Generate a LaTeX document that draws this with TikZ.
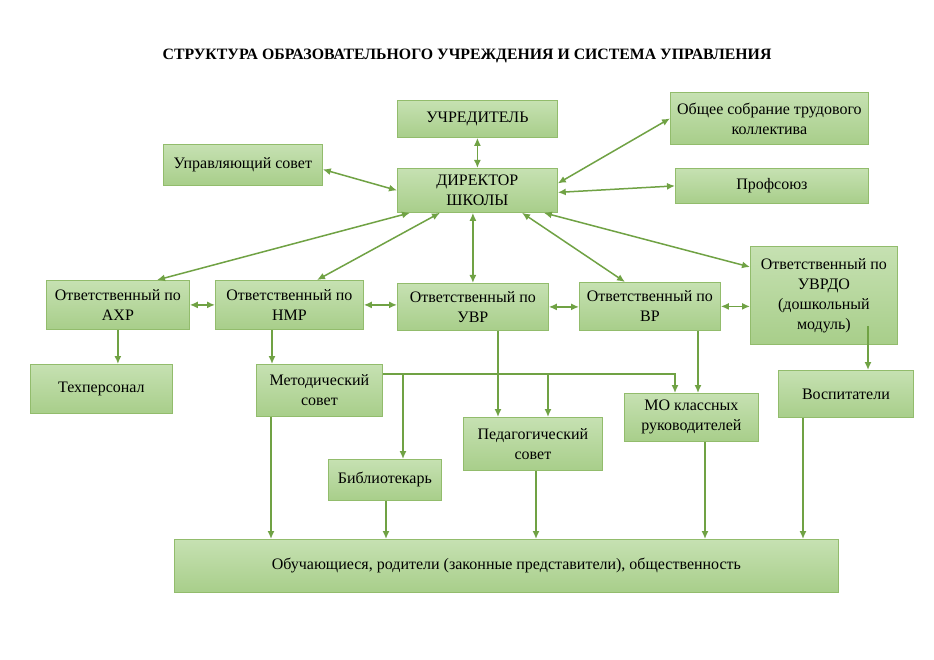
\documentclass[tikz,border=0pt]{standalone}
\usepackage{fontspec}
\setmainfont{Liberation Serif}
\usetikzlibrary{arrows.meta}
\definecolor{boxtop}{RGB}{198,225,178}
\definecolor{boxbot}{RGB}{168,206,138}
\definecolor{boxline}{RGB}{146,188,108}
\definecolor{arr}{RGB}{112,162,68}
\tikzset{
  bx/.style={draw=boxline, line width=0.8pt, top color=boxtop, bottom color=boxbot,
    align=center, inner sep=0pt, anchor=north west, font=\fontsize{16}{20}\selectfont},
  link/.style={draw=arr, line width=1.5pt, -{Latex[length=8pt,width=7pt]}},
  dlink/.style={draw=arr, line width=1.5pt, {Latex[length=8pt,width=7pt]}-{Latex[length=8pt,width=7pt]}},
  plain/.style={draw=arr, line width=1.5pt}
}
\begin{document}
\begin{tikzpicture}[x=1pt,y=-1pt]
\useasboundingbox (0,0) rectangle (934,660);
\fill[white] (0,0) rectangle (934,660);
\node[font=\bfseries\fontsize{15.8}{18}\selectfont] (title) at (467,56) {СТРУКТУРА ОБРАЗОВАТЕЛЬНОГО УЧРЕЖДЕНИЯ И СИСТЕМА УПРАВЛЕНИЯ};
\node[bx, minimum width=160pt, minimum height=37pt] (uch) at (397,100) {УЧРЕДИТЕЛЬ};
\node[bx, minimum width=159pt, minimum height=41pt] (upr) at (163,144) {Управляющий совет};
\node[bx, minimum width=160pt, minimum height=44pt] (dir) at (397,168) {ДИРЕКТОР\\ШКОЛЫ};
\node[bx, minimum width=198pt, minimum height=52pt] (obsh) at (670,92) {Общее собрание трудового\\коллектива};
\node[bx, minimum width=193pt, minimum height=35pt] (prof) at (675,168) {Профсоюз};
\node[bx, minimum width=143pt, minimum height=49pt] (axr) at (46,280) {Ответственный по\\АХР};
\node[bx, minimum width=148pt, minimum height=49pt] (nmr) at (215,280) {Ответственный по\\НМР};
\node[bx, minimum width=151pt, minimum height=47pt] (uvr) at (397,283) {Ответственный по\\УВР};
\node[bx, minimum width=141pt, minimum height=48pt] (vr) at (579,282) {Ответственный по\\ВР};
\node[bx, minimum width=147pt, minimum height=98pt] (uvrdo) at (750,246) {Ответственный по\\УВРДО\\(дошкольный\\модуль)};
\node[bx, minimum width=142pt, minimum height=49pt] (tex) at (30,364) {Техперсонал};
\node[bx, minimum width=126pt, minimum height=52pt] (met) at (256,364) {Методический\\совет};
\node[bx, minimum width=135pt, minimum height=47pt] (vosp) at (778,370) {Воспитатели};
\node[bx, minimum width=134pt, minimum height=48pt] (mo) at (624,393) {МО классных\\руководителей};
\node[bx, minimum width=113pt, minimum height=41pt] (bib) at (328,459) {Библиотекарь};
\node[bx, minimum width=139pt, minimum height=53pt] (ped) at (463,417) {Педагогический\\совет};
\node[bx, minimum width=664pt, minimum height=53pt] (obuch) at (174,539) {Обучающиеся, родители (законные представители), общественность};
% director links
\draw[dlink] (uch.south) -- (dir.north);
\draw[dlink] ([yshift=-4.5pt]upr.east) -- (dir.west);
\draw[dlink] ([yshift=7pt]dir.east) -- (obsh.west);
\draw[dlink] ([yshift=-2pt]dir.east) -- (prof.west);
\draw[dlink] ([xshift=13pt]dir.south west) -- ([xshift=111pt]axr.north west);
\draw[dlink] ([xshift=43pt]dir.south west) -- ([xshift=102pt]nmr.north west);
\draw[dlink] (uvr.north |- dir.south) -- (uvr.north);
\draw[dlink] ([xshift=125pt]dir.south west) -- ([xshift=46pt]vr.north west);
\draw[dlink] ([xshift=-14pt]dir.south east) -- ([yshift=-21pt]uvrdo.north west);
% horizontal links
\draw[dlink] (axr.east) -- (axr.east -| nmr.west);
\draw[dlink] (nmr.east) -- (nmr.east -| uvr.west);
\draw[dlink] (uvr.east) -- (uvr.east -| vr.west);
\draw[dlink] (vr.east) -- (vr.east -| uvrdo.west);
% down links
\draw[link] (axr.south) -- (axr.south |- tex.north);
\draw[link] ([xshift=57pt]nmr.south west) -- ([xshift=57pt]nmr.south west |- met.north);
\draw[link] ([xshift=101pt]uvr.south west) -- ([xshift=101pt]uvr.south west |- ped.north);
\draw[link] ([xshift=119pt]vr.south west) -- ([xshift=119pt]vr.south west |- mo.north);
\coordinate (vstart) at ([xshift=118pt,yshift=19pt]uvrdo.south west);
\draw[link] (vstart) -- (vstart |- vosp.north);
% methodical council bus
\coordinate (bus) at ([yshift=-10pt]met.north east);
\draw[link] (bus) -| ([xshift=51pt]mo.north west);
\draw[link] ([xshift=75pt]bib.north west |- bus) -- ([xshift=75pt]bib.north west);
\draw[link] ([xshift=85pt]ped.north west |- bus) -- ([xshift=85pt]ped.north west);
% to bottom
\draw[link] ([xshift=15pt]met.south west) -- ([xshift=15pt]met.south west |- obuch.north);
\draw[link] ([xshift=58pt]bib.south west) -- ([xshift=58pt]bib.south west |- obuch.north);
\draw[link] ([xshift=73pt]ped.south west) -- ([xshift=73pt]ped.south west |- obuch.north);
\draw[link] ([xshift=81pt]mo.south west) -- ([xshift=81pt]mo.south west |- obuch.north);
\draw[link] ([xshift=25pt]vosp.south west) -- ([xshift=25pt]vosp.south west |- obuch.north);
\end{tikzpicture}
\end{document}
